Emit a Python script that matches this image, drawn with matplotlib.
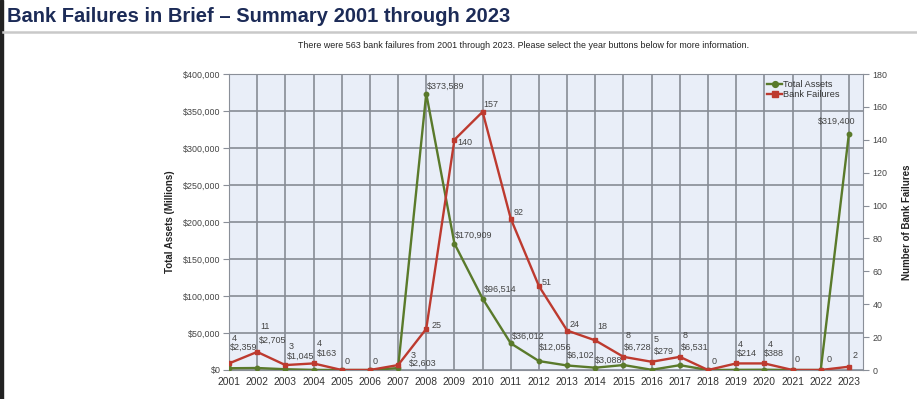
import matplotlib
matplotlib.use("Agg")
import matplotlib.pyplot as plt
from matplotlib.ticker import FuncFormatter, MultipleLocator
from matplotlib.lines import Line2D

plt.rcParams['font.family'] = ['Liberation Sans', 'DejaVu Sans']

years = list(range(2001, 2024))
failures = [4, 11, 3, 4, 0, 0, 3, 25, 140, 157, 92, 51, 24, 18, 8, 5, 8, 0, 4, 4, 0, 0, 2]
assets = [2359, 2705, 1045, 163, 0, 0, 2603, 373589, 170909, 96514, 36012, 12056,
          6102, 3088, 6728, 279, 6531, 0, 214, 388, 0, 0, 319400]

title = "Bank Failures in Brief \u2013 Summary 2001 through 2023"
subtitle = ("There were 563 bank failures from 2001 through 2023. "
            "Please select the year buttons below for more information.")

# label offsets in pixels (dx, dy) -- styling only
fail_off = [(3, 25), (3, 25), (3, 19), (3, 20), (3, 8), (3, 8), (13, 10), (5, 3),
            (3, -3), (1, 7), (3, 6), (3, 4), (2, 6), (2, 14), (2, 21), (2, 22),
            (3, 21), (4, 8), (2, 19), (3, 19), (2, 10), (6, 10), (4, 11)]
asset_off = [(1, 21), (2, 28), (2, 13), (3, 16), None, None, (11, 5), (1, 7),
             (0, 8), (1, 9), (1, 7), (0, 14), (0, 10), (0, 7), (0, 18), (2, 18),
             (1, 18), None, (1, 16), (0, 16), None, None, (-12, 12)]

GREEN = '#5a7a2b'
RED = '#bd3a2f'
BG = '#e9eef8'
GRID = '#878c95'
TXT = '#444444'

fig = plt.figure(figsize=(9.17, 3.99), dpi=100)
fig.patch.set_facecolor('white')

W, H = 917, 399
def fx(px): return px / W
def fy(py): return 1 - py / H

fig.patches.append(plt.Rectangle((0, 0), fx(3), 1, transform=fig.transFigure,
                                 color='#222222', zorder=0))
fig.text(fx(7), fy(17), title, fontsize=14.5, fontweight='bold', color='#1c2b57',
         ha='left', va='center')
fig.add_artist(Line2D([fx(3), 1], [fy(31.5), fy(31.5)], transform=fig.transFigure,
                      color='#c9c9c9', lw=1.8))
fig.text(fx(524), fy(46), subtitle, fontsize=6.4, color='#222222', ha='center', va='center')

ax = fig.add_axes([fx(229), fy(370), fx(863) - fx(229), fy(74) - fy(370)])
ax.set_facecolor(BG)
ax.set_xlim(2001, 2023.5)
ax.set_ylim(0, 400000)
ax.yaxis.set_major_locator(MultipleLocator(50000))
ax.yaxis.set_major_formatter(FuncFormatter(lambda v, p: f"${v:,.0f}"))
ax.set_xticks(years)
ax.set_xticklabels([str(y) for y in years])
ax.grid(True, color=GRID, lw=1.2, zorder=0)
ax.set_axisbelow(True)
for s in ax.spines.values():
    s.set_color('#8a8f98')
    s.set_linewidth(0.8)
ax.tick_params(axis='y', labelsize=6.4, colors=TXT, length=4, pad=2, color='#8a8f98')
ax.tick_params(axis='x', labelsize=7.4, labelcolor='#333333', length=0, pad=5)
ax.set_ylabel("Total Assets (Millions)", fontsize=7, fontweight='bold', color='#222222',
              labelpad=6)

ax2 = ax.twinx()
ax2.set_ylim(0, 180)
ax2.yaxis.set_major_locator(MultipleLocator(20))
ax2.tick_params(axis='y', labelsize=6.4, colors=TXT, length=4, pad=3, color='#8a8f98')
for s in ax2.spines.values():
    s.set_visible(False)
ax2.set_ylabel("Number of Bank Failures", fontsize=7, fontweight='bold', color='#222222',
               labelpad=10)

la, = ax.plot(years, assets, color=GREEN, lw=1.7, marker='o', ms=3.2, zorder=3,
              label='Total Assets')
lf, = ax2.plot(years, failures, color=RED, lw=1.7, marker='s', ms=3.2, zorder=3,
               label='Bank Failures')

for i, y in enumerate(years):
    dx, dy = fail_off[i]
    ax2.annotate(str(failures[i]), (y, failures[i]), xytext=(dx, dy),
                 textcoords='offset pixels', fontsize=6.5, color=TXT,
                 ha='left', va='center')
    if asset_off[i] is not None:
        dx, dy = asset_off[i]
        ha = 'center' if dx < 0 else 'left'
        ax.annotate(f"${assets[i]:,}", (y, assets[i]), xytext=(dx, dy),
                    textcoords='offset pixels', fontsize=6.5, color=TXT,
                    ha=ha, va='center', zorder=5)

leg = ax2.legend(handles=[la, lf], loc='upper left',
                 bbox_to_anchor=((765 - 229) / (863 - 229), 1 - 4 / 296),
                 frameon=False, fontsize=6.6, handlelength=1.7, handletextpad=0.1,
                 labelspacing=0.1, borderpad=0.2, borderaxespad=0, markerscale=1.3)
for t in leg.get_texts():
    t.set_color('#333333')

fig.savefig("out.png", dpi=100, facecolor='white')
